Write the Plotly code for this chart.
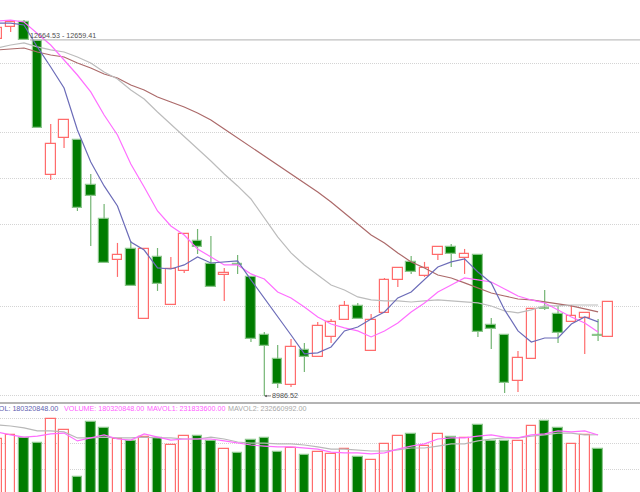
import plotly.graph_objects as go

# candles, oldest first (first two are cut off by the left edge, last one has no volume yet)
bar_x = list(range(-2, 44)) + [43.75]

opens = [12674, 12798, 12850, 12653, 11269, 11651, 11631, 11166, 10815, 10391, 10505, 9782, 10422, 9926, 10278, 10587,
         10350, 10236, 10350, 10216, 9616, 9369, 9100, 9461, 9389, 9596, 9771, 9916, 9451, 9844, 10185, 10371,
         10226, 10443, 10525, 10412, 10443, 9720, 9616, 9141, 9369, 9895, 9833, 9751, 9792, 9616, 9596]
highs = [12798, 12870, 12870, 12653, 11796, 11837, 11631, 11280, 10970, 10567, 10587, 10505, 10515, 10422, 10670, 10711,
         10639, 10309, 10443, 10226, 9647, 9513, 9575, 9534, 9751, 9782, 9968, 9947, 9833, 10205, 10319, 10432,
         10371, 10525, 10556, 10505, 10443, 9792, 9616, 9451, 9895, 10081, 9916, 9926, 9844, 9782, 9957]
lows = [12674, 12746, 12664, 11755, 11218, 11548, 10897, 10536, 10360, 10216, 10123, 9782, 10071, 9926, 10257, 10453,
        10112, 9968, 10247, 9544, 8986.52, 9069, 9079, 9234, 9389, 9534, 9771, 9782, 9451, 9844, 10112, 10247,
        10216, 10391, 10319, 10247, 9596, 9472, 9017, 9028, 9369, 9875, 9534, 9751, 9420, 9554, 9596]
closes = [12788, 12850, 12664, 11755, 11589, 11837, 10928, 11052, 10360, 10443, 10123, 10505, 10143, 10298, 10660, 10525,
          10112, 10257, 10340, 9575, 9503, 9110, 9492, 9389, 9709, 9751, 9916, 9782, 9771, 10185, 10309, 10267,
          10309, 10525, 10453, 10453, 9647, 9678, 9121, 9379, 9885, 9885, 9637, 9813, 9844, 9606, 9957]

ma_blue = [12839, 12839, 12819, 12592, 12385, 12168, 11734, 11404, 11156, 10949, 10577, 10494, 10309, 10298, 10340, 10422,
           10360, 10371, 10381, 10185, 9999, 9802, 9616, 9420, 9431, 9492, 9658, 9699, 9782, 9854, 9999, 10061,
           10185, 10319, 10371, 10402, 10267, 10154, 9875, 9658, 9544, 9585, 9585, 9730, 9802, 9751]
ma_pink = [12860, 12870, 12850, 12736, 12612, 12457, 12302, 12127, 11889, 11682, 11383, 11145, 10897, 10742, 10649, 10505,
           10422, 10340, 10340, 10247, 10195, 10061, 9999, 9906, 9802, 9730, 9689, 9658, 9596, 9658, 9740, 9854,
           9947, 10061, 10133, 10205, 10185, 10164, 10092, 10019, 9978, 9947, 9875, 9802, 9740, 9647]
ma_gray = [12581, 12612, 12633, 12592, 12561, 12540, 12488, 12426, 12333, 12261, 12147, 12054, 11920, 11796, 11662, 11548,
           11414, 11280, 11156, 11021, 10825, 10629, 10464, 10340, 10236, 10133, 10081, 10009, 9978, 9968, 9968, 9957,
           9968, 9978, 9968, 9957, 9947, 9916, 9864, 9844, 9875, 9916, 9916, 9926, 9926, 9926]
ma_brown = [12561, 12571, 12581, 12540, 12509, 12488, 12426, 12375, 12313, 12271, 12199, 12147, 12075, 12023, 11972, 11910,
            11837, 11744, 11651, 11558, 11465, 11373, 11280, 11187, 11094, 10990, 10877, 10763, 10649, 10567, 10464, 10371,
            10309, 10236, 10205, 10154, 10102, 10050, 10019, 9988, 9978, 9957, 9937, 9916, 9885, 9854]

# volume in millions
volume = [217, 232, 221, 202, 291, 250, 77, 280, 258, 217, 210, 224, 221, 195, 228, 228, 210, 180, 166, 213, 221, 169, 184,
          158, 169, 162, 180, 151, 140, 199, 228, 236, 191, 236, 224, 221, 269, 210, 210, 210, 265, 283, 258, 199, 232, 180.32]
mavol1 = [243, 232, 224, 228, 236, 239, 210, 221, 232, 217, 213, 236, 224, 213, 217, 217, 217, 210, 202, 195, 191, 188, 188,
          184, 180, 169, 166, 166, 162, 166, 180, 191, 199, 217, 221, 221, 228, 232, 224, 221, 232, 236, 247, 243, 247, 231.83]
mavol2 = [269, 265, 258, 247, 247, 243, 221, 221, 224, 221, 221, 224, 221, 221, 217, 217, 224, 217, 206, 202, 202, 199, 199,
          195, 188, 180, 180, 177, 173, 173, 177, 184, 184, 191, 199, 199, 210, 217, 221, 221, 228, 232, 239, 239, 232, 232.66]

price_grid = [12426, 11713, 11238, 10753, 9906, 8986.52]
volume_grid = [294, 199, 103]

RED = '#ff6c6c'
GREEN = '#007c00'

is_up = [c >= o for o, c in zip(opens, closes)]
body_low = [min(o, c) for o, c in zip(opens, closes)]
body_high = [max(o, c) for o, c in zip(opens, closes)]

fig = go.Figure()

# candle bodies
fig.add_trace(go.Bar(x=bar_x, y=[t - b for t, b in zip(body_high, body_low)], base=body_low, width=0.72,
                     marker=dict(color=['white' if u else GREEN for u in is_up],
                                 line=dict(color=[RED if u else '#8cc68c' for u in is_up], width=1.2)),
                     xaxis='x', yaxis='y'))

# wicks, only outside the body so the hollow candles stay empty
for up, col in [(True, '#ff6c6c'), (False, '#74b574')]:
    wx, wy = [], []
    for i in range(len(bar_x)):
        if is_up[i] != up:
            continue
        wx += [bar_x[i], bar_x[i], None, bar_x[i], bar_x[i], None]
        wy += [highs[i], body_high[i], None, body_low[i], lows[i], None]
    fig.add_trace(go.Scatter(x=wx, y=wy, mode='lines', line=dict(color=col, width=1.2), xaxis='x', yaxis='y'))

for vals, col in [(ma_brown, '#ac6a6a'), (ma_gray, '#bcbcbc'), (ma_pink, '#ff6eff'), (ma_blue, '#6c6cb8')]:
    fig.add_trace(go.Scatter(x=bar_x[:46], y=vals, mode='lines', line=dict(color=col, width=1.2), xaxis='x', yaxis='y'))

# volume panel
fig.add_trace(go.Bar(x=bar_x[:46], y=volume, width=0.72,
                     marker=dict(color=['white' if u else GREEN for u in is_up[:46]],
                                 line=dict(color=[RED if u else '#8cc68c' for u in is_up[:46]], width=1.2)),
                     xaxis='x', yaxis='y2'))
for vals, col in [(mavol2, '#b8b8b8'), (mavol1, '#ff6eff')]:
    fig.add_trace(go.Scatter(x=bar_x[:46], y=vals, mode='lines', line=dict(color=col, width=1.2), xaxis='x', yaxis='y2'))

small = dict(family='Liberation Sans', size=7.2)


def header(text, px, col, anchor='left'):
    fig.add_annotation(xref='paper', yref='paper', x=px / 640, y=1 - 408 / 492, text=text, showarrow=False,
                       xanchor=anchor, yanchor='middle', font=dict(color=col, **small))


header('VOL: 180320848.00', 60, '#6060b0', 'right')
header('VOLUME: 180320848.00', 62, '#ff60ff')
header('MAVOL1: 231833600.00', 145, '#ff60ff')
header('MAVOL2: 232660992.00', 226, '#a8a8a8')

# highest / lowest price markers
fig.add_annotation(xref='x', yref='y', x=0.3, y=12664.53, text='12664.53 - 12659.41', showarrow=False,
                   xanchor='left', yanchor='bottom', yshift=-2, font=dict(color='#505050', **small))
fig.add_annotation(xref='x', yref='y', x=18, y=8986.52, text='8986.52', showarrow=True, ax=21, ay=0,
                   arrowhead=2, arrowsize=0.7, arrowwidth=0.7, arrowcolor='#505050', font=dict(color='#505050', **small))
fig.add_shape(type='line', xref='x', yref='y', x0=0.45, x1=47, y0=12664.53, y1=12664.53,
              line=dict(color='#b0b0b0', width=1))
fig.add_shape(type='line', xref='paper', yref='paper', x0=0, x1=1, y0=1 - 403 / 492, y1=1 - 403 / 492,
              line=dict(color='#b4b4b4', width=2))

grid = dict(showticklabels=False, ticks='', zeroline=False, showline=False, showgrid=True,
            gridcolor='#d4d4d4', griddash='1px,1px', gridwidth=1)

fig.update_layout(
    width=640, height=492, autosize=False,
    margin=dict(l=0, r=0, t=0, b=0),
    paper_bgcolor='white', plot_bgcolor='white',
    showlegend=False, bargap=0,
    font=dict(family='Liberation Sans'),
    xaxis=dict(range=[-1.798, 46.14], visible=False),
    yaxis=dict(domain=[0.181, 1], range=[8914, 13077], tickmode='array', tickvals=price_grid, **grid),
    yaxis2=dict(domain=[0, 0.1789], range=[22, 346], tickmode='array', tickvals=volume_grid, **grid),
)

# the page's default body margin would push the chart 8px off
fig.write_html("out.html", config=dict(displayModeBar=False), post_script="document.body.style.margin='0';")
